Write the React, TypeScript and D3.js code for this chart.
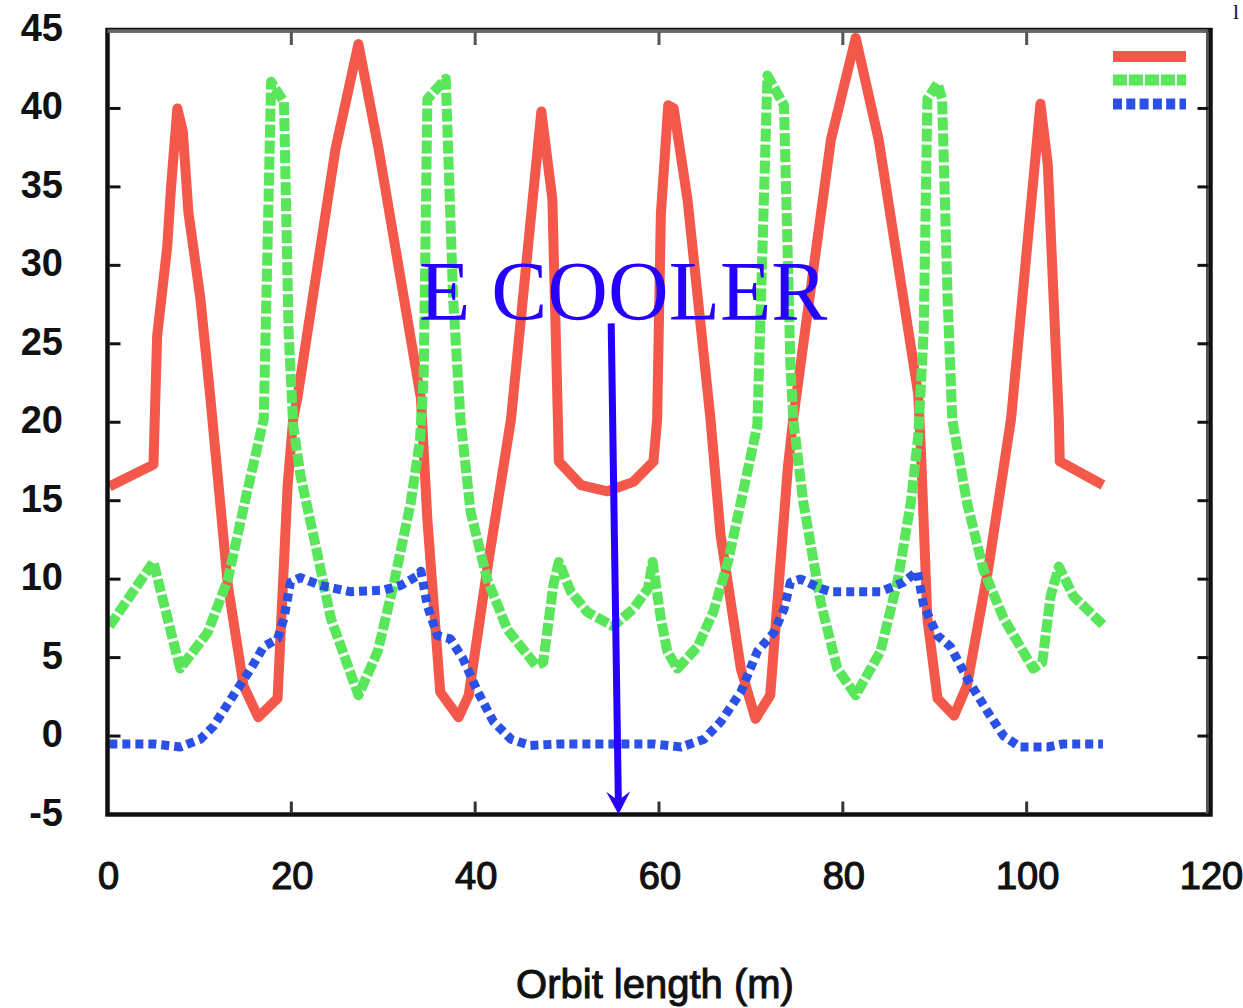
import React from "react";
import * as d3 from "d3";

// Lattice functions along the ring: [orbit position (m), value]
const betaX: [number, number][] = [
  [0.2, 15.9], [5.0, 17.3], [5.4, 25.5], [6.5, 31.2], [6.9, 34.9], [7.6, 40.0],
  [8.2, 38.5], [8.8, 33.4], [10.1, 27.9], [11.2, 21.5], [13.1, 9.6], [14.8, 3.2],
  [16.4, 1.2], [18.5, 2.4], [19.6, 16.0], [20.2, 20.2], [20.7, 21.7], [24.8, 37.4],
  [27.3, 44.1], [29.5, 37.4], [34.1, 21.5], [34.8, 13.8], [36.2, 2.8], [38.2, 1.2],
  [39.3, 2.6], [41.3, 10.6], [43.9, 20.2], [47.2, 39.8], [48.4, 34.2], [49.0, 20.2],
  [49.1, 17.5], [51.5, 16.0], [54.4, 15.6], [57.2, 16.2], [59.4, 17.5], [59.8, 20.2],
  [60.2, 33.2], [61.0, 40.2], [61.6, 40.0], [63.1, 34.2], [65.6, 20.2], [66.7, 12.8],
  [68.9, 4.3], [70.5, 1.1], [72.1, 2.6], [74.0, 17.0], [74.6, 20.2], [78.7, 38.0],
  [81.4, 44.5], [83.9, 38.0], [88.2, 21.8], [88.5, 18.1], [89.2, 7.5], [90.3, 2.4],
  [92.1, 1.3], [93.5, 3.2], [95.8, 10.6], [98.3, 20.2], [101.5, 40.3], [102.3, 36.4],
  [103.5, 20.2], [103.6, 17.5], [108.3, 16.0],
];

const betaY: [number, number][] = [
  [0.2, 7.0], [5.0, 11.1], [7.9, 4.3], [10.9, 6.6], [13.1, 10.0], [15.2, 15.6],
  [17.0, 20.2], [17.8, 41.7], [19.2, 40.4], [19.7, 25.8], [20.2, 19.8], [21.0, 16.6],
  [22.4, 12.8], [24.3, 7.5], [27.3, 2.6], [29.4, 5.4], [31.1, 9.6], [33.0, 14.9],
  [34.0, 18.9], [34.4, 23.0], [34.8, 40.6], [36.8, 41.9], [37.6, 27.9], [38.4, 20.2],
  [39.5, 14.3], [41.3, 10.0], [43.5, 6.8], [46.6, 4.5], [47.4, 4.7], [48.5, 9.6],
  [49.1, 11.1], [50.4, 9.2], [52.2, 7.9], [55.0, 7.0], [57.2, 8.1], [58.8, 9.4],
  [59.3, 11.1], [60.2, 7.5], [60.9, 5.4], [62.0, 4.3], [64.2, 5.7], [65.9, 7.9],
  [67.5, 11.1], [68.9, 14.9], [70.7, 19.8], [71.8, 42.1], [73.6, 40.2], [74.3, 23.6],
  [74.6, 20.2], [75.7, 14.9], [77.6, 8.5], [79.4, 4.3], [81.4, 2.6], [84.1, 5.4],
  [86.0, 10.0], [87.4, 14.9], [88.2, 19.1], [88.8, 25.8], [89.2, 40.6], [90.3, 41.6],
  [90.8, 40.6], [91.4, 27.9], [91.9, 20.2], [93.5, 14.9], [95.3, 10.6], [97.5, 7.5],
  [100.7, 4.3], [101.7, 4.7], [102.6, 8.9], [103.5, 10.8], [105.1, 8.9], [108.3, 7.1],
];

const dispersion: [number, number][] = [
  [0.2, -0.5], [5.0, -0.5], [7.9, -0.7], [10.1, -0.2], [11.5, 0.6], [13.7, 2.6],
  [15.6, 4.3], [17.0, 5.7], [18.5, 6.2], [19.2, 7.5], [19.9, 9.8], [21.0, 10.1],
  [23.2, 9.6], [26.4, 9.2], [30.0, 9.3], [31.9, 9.6], [33.7, 10.2], [34.1, 10.5],
  [34.8, 8.3], [35.9, 6.4], [37.3, 6.2], [38.7, 4.9], [40.3, 2.8], [42.0, 0.9],
  [43.9, -0.2], [46.0, -0.6], [49.3, -0.5], [54.4, -0.5], [59.4, -0.5], [62.4, -0.7],
  [64.9, -0.2], [66.7, 0.9], [68.9, 2.8], [70.7, 5.4], [72.5, 6.6], [73.6, 8.1],
  [74.3, 9.8], [75.4, 10.0], [77.6, 9.4], [78.7, 9.2], [84.1, 9.2], [86.6, 9.8],
  [88.1, 10.5], [88.8, 8.3], [90.3, 6.4], [91.7, 5.7], [93.6, 3.6], [95.8, 1.5],
  [97.5, 0.0], [99.3, -0.7], [102.3, -0.7], [104.0, -0.5], [108.3, -0.5],
];

const xTicks = [0, 20, 40, 60, 80, 100, 120];
const yTicks = [-5, 0, 5, 10, 15, 20, 25, 30, 35, 40, 45];

// Electron cooler annotation: label anchor and arrow (orbit position, value)
const coolerLabel = { s: 56.1, v: 26.5, text: "E COOLER" };
const coolerArrow = { s0: 54.8, v0: 26.3, s1: 55.6, v1: -5 };

const W = 1243;
const H = 1008;
const left = 107.5;
const right = 1210.5;
const top = 30;
const bottom = 814.5;

const RED = "#f4584a";
const GREEN = "#5ae65a";
const BLUE = "#2a50e6";
const ANNOT = "#2600ff";

export default function App() {
  const x = d3.scaleLinear().domain([0, 120]).range([left, right]);
  const y = d3.scaleLinear().domain([-5, 45]).range([bottom, top]);
  const line = d3
    .line<[number, number]>()
    .x((d) => x(d[0]))
    .y((d) => y(d[1]));

  const ax0 = x(coolerArrow.s0);
  const ay0 = y(coolerArrow.v0);
  const ax1 = x(coolerArrow.s1);
  const ay1 = y(coolerArrow.v1);
  const ang = Math.atan2(ay1 - ay0, ax1 - ax0);
  const headLen = 23;
  const headHalf = 12;
  const notch = 9;
  const ux = Math.cos(ang);
  const uy = Math.sin(ang);
  const px = -uy;
  const py = ux;
  const head = [
    [ax1, ay1],
    [ax1 - ux * headLen + px * headHalf, ay1 - uy * headLen + py * headHalf],
    [ax1 - ux * (headLen - notch), ay1 - uy * (headLen - notch)],
    [ax1 - ux * headLen - px * headHalf, ay1 - uy * headLen - py * headHalf],
  ]
    .map((p) => p.join(","))
    .join(" ");

  const tickFont = "'Liberation Sans', Arial, Helvetica, sans-serif";

  return (
    <svg
      width={W}
      height={H}
      style={{ position: "absolute", left: 0, top: 0, background: "#fff" }}
    >
      <rect width={W} height={H} fill="#fff" />

      {/* data curves */}
      <g fill="none" strokeLinejoin="round">
        <path d={line(betaX) ?? ""} stroke={RED} strokeWidth={10} />
        <path
          d={line(betaY) ?? ""}
          stroke={GREEN}
          strokeWidth={10}
          strokeDasharray="13 3"
        />
        <path
          d={line(dispersion) ?? ""}
          stroke={BLUE}
          strokeWidth={9}
          strokeDasharray="8 5"
        />
      </g>

      {/* legend samples */}
      <g fill="none">
        <line x1={1113} x2={1186} y1={56.5} y2={56.5} stroke={RED} strokeWidth={11} />
        <line
          x1={1113}
          x2={1186}
          y1={80}
          y2={80}
          stroke={GREEN}
          strokeWidth={11}
          strokeDasharray="14 2"
        />
        <line
          x1={1113}
          x2={1186}
          y1={104}
          y2={104}
          stroke={BLUE}
          strokeWidth={11}
          strokeDasharray="9 4.3"
        />
      </g>

      {/* frame */}
      <rect
        x={left}
        y={top}
        width={right - left}
        height={bottom - top}
        fill="none"
        stroke="#111"
        strokeWidth={4.5}
      />
      <rect x={left} y={29.3} width={right - left - 3} height={3.6} fill="#666" />
      <rect x={right - 4.5} y={29.3} width={2.2} height={bottom - top} fill="#555" />

      {/* ticks */}
      <g strokeWidth={3}>
        {xTicks.slice(1, -1).map((t) => (
          <g key={`xt${t}`}>
            <line x1={x(t)} x2={x(t)} y1={top + 2} y2={top + 15} stroke="#555" />
            <line x1={x(t)} x2={x(t)} y1={bottom - 2} y2={bottom - 13} stroke="#333" />
          </g>
        ))}
        {yTicks.slice(1, -1).map((t) => (
          <g key={`yt${t}`}>
            <line x1={left + 2} x2={left + 13} y1={y(t)} y2={y(t)} stroke="#111" />
            <line x1={right - 2} x2={right - 13} y1={y(t)} y2={y(t)} stroke="#111" />
          </g>
        ))}
      </g>

      {/* tick labels */}
      <g fontFamily={tickFont} fontWeight="bold" fontSize={38} fill="#111">
        {yTicks.map((t) => (
          <text
            key={`yl${t}`}
            x={63}
            y={y(t) - 2}
            textAnchor="end"
            dominantBaseline="central"
          >
            {t}
          </text>
        ))}
        {xTicks.map((t) => (
          <text
            key={`xl${t}`}
            x={x(t) + 1}
            y={876}
            textAnchor="middle"
            dominantBaseline="central"
            fontWeight="normal"
            stroke="#111"
            strokeWidth={1.2}
          >
            {t}
          </text>
        ))}
      </g>

      <text
        x={655}
        y={998}
        textAnchor="middle"
        fontFamily={tickFont}
        fontSize={40}
        fill="#111"
        stroke="#111"
        strokeWidth={1}
      >
        Orbit length (m)
      </text>

      {/* annotation */}
      <text
        x={x(coolerLabel.s)}
        y={y(coolerLabel.v)}
        textAnchor="middle"
        fontFamily="'Liberation Serif', 'Times New Roman', serif"
        fontSize={84}
        fill={ANNOT}
      >
        {coolerLabel.text}
      </text>
      <line
        x1={ax0}
        y1={ay0}
        x2={ax1 - ux * (headLen - notch)}
        y2={ay1 - uy * (headLen - notch)}
        stroke={ANNOT}
        strokeWidth={7}
      />
      <polygon points={head} fill={ANNOT} />

      {/* small glyph at the page corner */}
      <text
        x={1236}
        y={19}
        textAnchor="middle"
        fontFamily="'Liberation Serif', 'Times New Roman', serif"
        fontSize={22}
        fill="#111"
      >
        l
      </text>
    </svg>
  );
}
